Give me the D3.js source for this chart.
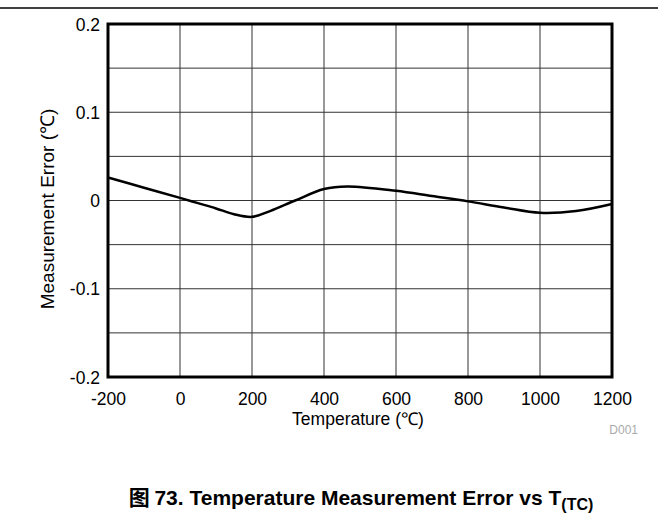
<!DOCTYPE html>
<html><head><meta charset="utf-8">
<script src="https://cdn.jsdelivr.net/npm/d3@7"></script>
<style>body{margin:0;background:#fff}svg{display:block;font-family:"Liberation Sans",Arial,sans-serif}</style>
</head><body><svg id="c" width="658" height="527"></svg>
<script>
const temps = [-200,-100,0,50,100,150,200,250,320,400,465,600,700,800,900,1000,1100,1200];
const errors = [0.026,0.0145,0.003,-0.003,-0.009,-0.0155,-0.0185,-0.012,0.000,0.013,0.016,0.011,0.005,-0.001,-0.008,-0.014,-0.012,-0.004];
const xTicks = [-200,0,200,400,600,800,1000,1200];
const yTicks = [-0.2,-0.1,0,0.1,0.2];
const yGrid = [-0.15,-0.05,0.05,0.15];

const FF = "Liberation Sans, Arial, sans-serif";
const svg = d3.select("#c");
const L=108,R=612,T=24,B=377;
const x = d3.scaleLinear().domain([-200,1200]).range([L,R]);
const y = d3.scaleLinear().domain([-0.2,0.2]).range([B,T]);

svg.append("line").attr("x1",0).attr("x2",658).attr("y1",8).attr("y2",8).attr("stroke","#000").attr("stroke-width",1.5);

const g = svg.append("g");
g.selectAll(".vx").data(xTicks.slice(1,-1)).join("line").attr("x1",d=>x(d)).attr("x2",d=>x(d)).attr("y1",T).attr("y2",B).attr("stroke","#333").attr("stroke-width",1);
g.selectAll(".hy").data(yTicks.slice(1,-1).concat(yGrid)).join("line").attr("y1",d=>y(d)).attr("y2",d=>y(d)).attr("x1",L).attr("x2",R).attr("stroke","#333").attr("stroke-width",1);

const line = d3.line().x(d=>x(d[0])).y(d=>y(d[1])).curve(d3.curveCatmullRom.alpha(0.5));
svg.append("path").datum(temps.map((t,i)=>[t,errors[i]])).attr("d",line).attr("fill","none").attr("stroke","#000").attr("stroke-width",2.5);

svg.append("rect").attr("x",L).attr("y",T).attr("width",R-L).attr("height",B-T).attr("fill","none").attr("stroke","#000").attr("stroke-width",3);

const xAxis = d3.axisBottom(x).tickValues(xTicks).tickSize(0).tickPadding(0).tickFormat(d=>String(d));
const xa = svg.append("g").attr("transform",`translate(0,${B})`).call(xAxis);
xa.select(".domain").remove();
xa.selectAll("text").attr("font-size",17.5).attr("fill","#000").attr("dy",null).attr("y",28).attr("font-family",FF);

const yAxis = d3.axisLeft(y).tickValues(yTicks).tickSize(0).tickPadding(0).tickFormat(d=>d===0?"0":d.toFixed(1));
const ya = svg.append("g").attr("transform",`translate(${L},0)`).call(yAxis);
ya.select(".domain").remove();
ya.selectAll("text").attr("font-size",17.5).attr("fill","#000").attr("x",-8).attr("dy","0.35em").attr("font-family",FF);

svg.append("text").attr("x",358).attr("y",425).attr("text-anchor","middle").attr("font-size",17.5).text("Temperature (℃)");
svg.append("text").attr("transform","translate(54,209) rotate(-90)").attr("text-anchor","middle").attr("font-size",19).text("Measurement Error (℃)");
svg.append("text").attr("x",638).attr("y",434).attr("text-anchor","end").attr("font-size",12).attr("fill","#aaa").text("D001");

const t = svg.append("text").attr("x",361).attr("y",505).attr("text-anchor","middle").attr("font-size",21).attr("font-weight","bold");
t.append("tspan").attr("font-family","Noto Sans CJK SC").text("图 ");
t.append("tspan").text("73. Temperature Measurement Error vs T");
t.append("tspan").attr("dy",5).attr("font-size",16).text("(TC)");
</script></body></html>
